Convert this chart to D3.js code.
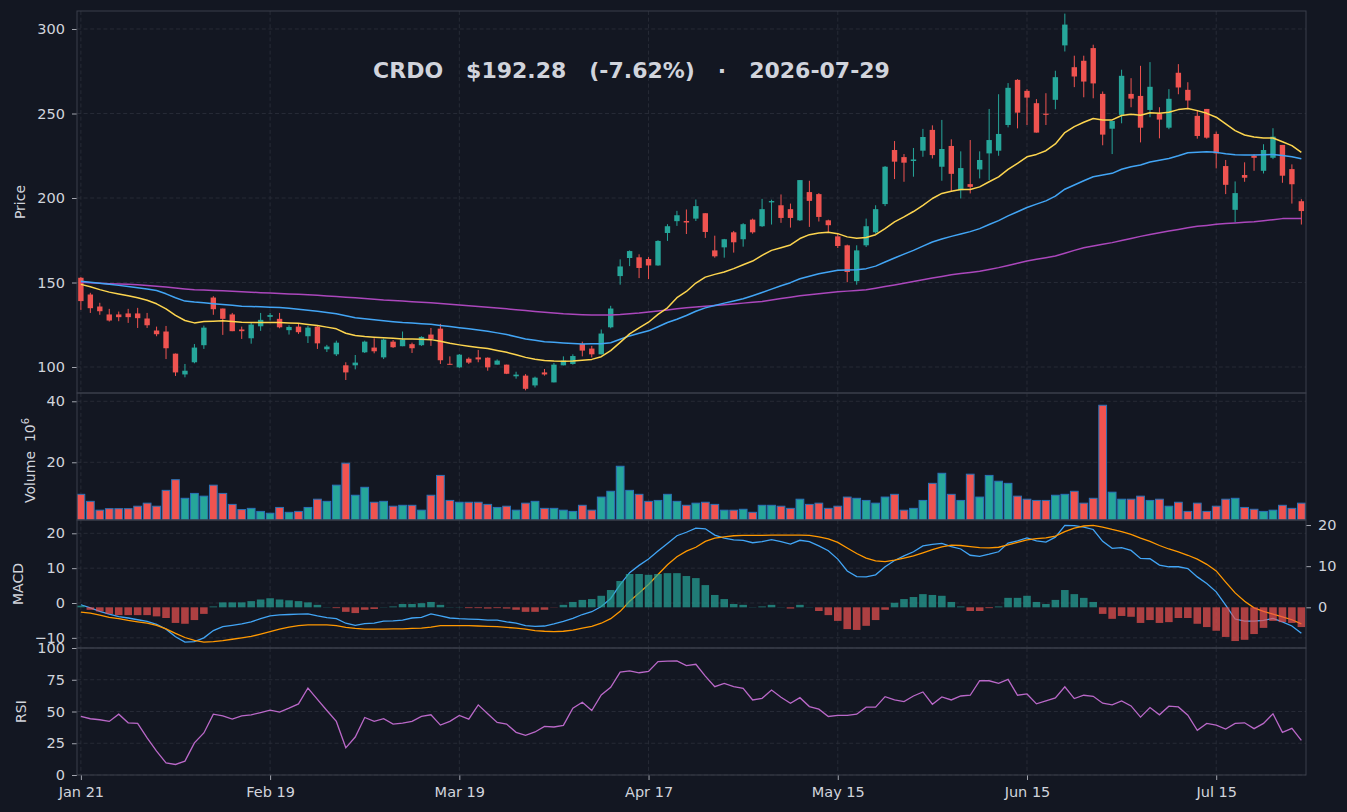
<!DOCTYPE html>
<html><head><meta charset="utf-8">
<script src="https://cdn.jsdelivr.net/npm/d3@7"></script>
<style>html,body{margin:0;padding:0;background:#131722;}svg{display:block;}</style>
</head><body><svg id="c" width="1347" height="812"></svg>
<script>
const xTickIndex=[0,20,40,60,80,100,120];
const xTickLabels=["Jan 21","Feb 19","Mar 19","Apr 17","May 15","Jun 15","Jul 15"];
const openP=[152.8,142.9,135.8,131.1,131.1,131.7,131.7,128.7,121.6,121.0,
107.9,95.6,102.8,112.9,141.1,134.6,131.1,122.2,117.0,124.1,
129.7,128.5,121.8,123.9,118.2,123.9,110.5,107.5,101.0,101.0,
108.7,111.5,105.7,115.0,112.3,113.5,112.9,119.2,122.7,101.9,
99.8,104.9,105.7,105.5,101.4,101.4,94.5,94.9,89.1,96.8,
90.9,101.0,101.8,113.6,110.9,107.5,123.5,153.8,164.5,164.9,
163.9,160.1,179.3,186.3,186.4,187.8,191.0,169.0,170.8,179.7,
175.6,187.2,183.3,197.4,195.7,193.4,186.8,203.5,202.3,186.8,
177.3,172.0,150.8,172.0,179.7,196.4,228.4,224.2,221.9,228.0,
240.3,218.5,230.8,204.6,208.2,216.9,226.4,228.0,243.2,269.9,
263.4,256.1,249.9,258.1,290.3,277.4,281.2,288.7,261.6,241.0,
249.2,261.6,260.4,252.1,249.8,241.6,274.1,264.0,248.6,252.7,
237.9,218.9,193.0,213.6,225.0,216.1,223.8,231.4,217.1,198.1];
const highP=[153.2,143.9,138.0,134.4,132.8,134.4,135.0,132.0,123.9,124.3,
108.0,101.8,113.6,124.5,141.9,134.6,132.0,123.9,126.1,132.0,
132.0,132.0,124.7,125.5,124.3,124.7,113.1,115.6,102.8,107.1,
115.6,117.0,116.8,116.0,121.0,114.4,118.2,123.1,125.5,106.3,
107.7,105.7,110.1,105.7,104.5,101.4,97.2,95.8,94.3,98.8,
102.4,106.3,107.5,115.0,112.5,122.2,136.2,163.7,169.0,166.7,
165.1,175.0,184.5,192.4,193.2,199.1,191.0,177.7,175.8,180.5,
185.1,187.8,199.5,199.0,202.1,196.7,210.6,210.2,202.9,187.2,
179.3,172.4,172.0,187.8,195.7,218.9,233.7,226.0,229.6,240.9,
243.0,246.2,234.7,227.6,234.3,227.6,252.7,261.4,268.0,270.3,
264.4,258.5,262.0,275.3,309.1,284.2,284.2,290.7,263.0,245.6,
275.9,270.9,278.2,280.4,253.7,264.4,279.2,268.5,252.1,252.7,
239.3,222.5,209.8,221.1,226.0,231.8,241.3,231.4,219.9,199.3];
const lowP=[133.8,132.0,130.9,126.9,127.1,126.1,123.1,123.1,118.2,104.7,
94.7,93.9,102.2,110.7,130.9,119.0,121.2,116.6,113.8,121.4,
127.5,122.9,119.2,119.6,114.2,110.7,108.9,106.5,92.3,98.6,
108.3,108.1,104.7,111.3,112.3,108.3,112.5,112.5,101.8,101.4,
99.4,101.8,102.8,97.8,101.4,95.8,93.1,86.2,87.9,94.9,
90.9,101.0,101.4,106.3,105.7,107.5,122.9,148.7,159.7,152.6,
152.0,159.9,174.6,183.5,178.7,186.4,176.4,164.7,164.7,167.7,
171.2,178.9,182.9,184.3,185.3,182.5,186.4,182.9,186.1,179.5,
170.4,150.2,148.7,171.0,178.9,195.2,211.2,209.6,212.6,224.4,
223.4,210.2,203.7,199.7,202.7,211.6,210.6,225.0,241.8,241.2,
243.2,238.7,243.2,252.5,286.7,265.6,259.6,259.0,231.2,226.0,
244.2,253.7,232.9,247.8,235.3,240.7,261.4,252.5,235.1,235.1,
217.5,202.3,185.7,209.6,216.1,214.5,223.0,209.0,196.7,184.3];
const closeP=[139.0,134.8,133.0,127.5,129.5,129.5,128.9,124.7,119.4,111.1,
96.8,97.8,111.5,123.3,134.2,128.5,121.2,121.2,125.1,127.9,
130.7,123.5,123.7,120.6,123.3,114.0,112.1,114.4,96.8,102.6,
115.0,109.3,116.2,111.7,116.2,111.1,117.8,116.6,104.0,101.8,
107.3,102.6,104.5,99.8,103.8,96.0,95.5,87.1,93.7,95.6,
101.4,103.8,106.5,109.7,107.5,119.8,134.6,159.5,168.6,158.6,
160.1,174.6,183.3,189.8,185.5,195.2,179.9,165.5,175.6,173.8,
184.5,179.7,193.4,198.2,188.2,188.2,210.6,198.3,188.8,183.9,
171.6,156.2,169.0,183.3,193.4,218.5,221.5,220.9,222.8,236.1,
225.4,229.0,214.3,217.7,206.6,222.5,234.3,237.9,265.2,250.5,
259.4,238.7,249.2,271.5,302.6,271.9,268.9,267.8,237.5,245.6,
272.3,258.8,241.6,265.8,246.4,258.7,265.4,257.7,236.7,235.7,
226.4,207.8,202.9,212.0,223.8,228.4,236.3,213.2,208.14,192.28];
const volume=[9.5,7.2,4.3,4.8,4.8,4.8,5.6,6.6,5.6,10.8,
14.3,8.2,9.8,8.9,12.5,9.8,6.2,4.5,4.9,3.9,
3.3,5.2,3.6,3.9,5.2,7.9,7.2,12.5,19.7,9.2,
11.8,6.9,7.2,5.6,5.9,5.9,4.3,9.2,15.7,7.5,
6.9,6.9,6.9,6.2,5.2,5.6,4.3,6.6,7.2,4.9,
4.9,4.3,3.9,5.9,4.3,8.6,10.5,18.7,10.8,9.5,
7.2,7.5,9.5,7.2,5.9,6.6,6.9,6.2,4.3,4.3,
4.6,3.6,5.9,5.9,5.6,4.9,7.9,6.2,6.6,4.9,
5.6,8.6,8.2,7.5,6.6,8.6,9.5,4.3,4.9,7.5,
13.1,16.4,9.5,7.5,16.1,8.6,15.7,13.8,13.1,8.9,
7.9,7.5,7.5,9.2,9.5,10.5,6.6,8.2,38.7,10.2,
7.9,7.9,8.9,7.5,7.9,5.6,6.9,3.9,6.6,3.9,
5.6,7.9,8.2,5.2,4.6,3.9,4.3,5.9,4.9,6.6];
const maFast=[148.9,147.5,145.8,144.3,143.2,142.2,141.0,139.5,137.4,134.4,
130.5,127.5,126.1,126.9,127.1,127.3,126.9,126.5,126.4,126.3,
126.3,126.3,126.1,125.9,125.2,124.5,123.6,122.6,120.0,118.6,
118.0,117.6,117.3,117.0,116.6,116.5,116.4,116.2,115.3,114.0,
113.1,112.3,111.6,110.9,109.8,108.7,107.2,105.7,104.6,103.8,
103.5,103.4,103.6,104.0,104.5,106.1,109.7,114.6,119.6,123.1,
126.5,131.1,135.0,141.0,144.7,149.7,153.2,154.8,156.2,158.2,
160.5,162.7,166.1,169.0,170.6,172.2,176.0,178.3,179.3,179.7,
178.9,177.0,176.2,176.6,178.3,181.9,185.9,188.8,192.0,195.7,
199.7,202.7,204.0,205.0,205.0,206.6,209.6,212.5,216.9,220.5,
224.4,225.8,228.0,232.0,238.7,242.2,244.8,247.0,246.2,246.2,
248.8,249.6,249.0,250.5,250.1,250.7,252.3,252.9,251.7,250.1,
247.8,243.8,239.9,237.3,236.1,235.5,235.5,233.3,231.0,227.0];
const maMid=[150.8,150.2,149.6,148.9,148.3,147.6,146.9,146.2,145.3,143.3,
141.0,139.0,138.4,138.0,137.5,137.0,136.5,136.0,135.8,135.6,
135.4,135.2,134.7,134.2,133.6,133.0,132.3,131.5,130.3,129.1,
128.5,127.9,127.4,126.8,126.3,126.0,125.6,125.3,124.6,123.9,
123.2,122.6,121.9,121.2,120.2,119.2,117.9,116.6,115.8,115.0,
114.6,114.2,113.9,113.6,113.7,113.8,114.4,116.4,118.4,120.0,
121.4,123.8,126.3,128.3,130.5,133.0,135.0,136.4,137.8,139.1,
140.4,142.2,144.1,146.1,148.1,149.9,152.2,153.7,155.2,156.2,
157.2,157.4,157.6,158.2,159.7,162.1,164.5,166.8,169.0,171.5,
174.0,175.7,177.3,178.7,180.1,181.9,184.3,186.6,189.4,191.9,
194.4,196.4,198.3,201.1,205.2,207.7,210.2,212.6,213.6,214.6,
217.0,218.5,219.5,221.3,222.4,223.4,225.0,226.8,227.1,227.4,
227.0,226.2,225.6,225.5,225.4,225.6,225.8,225.2,224.4,223.2];
const maSlow=[150.2,149.9,149.6,149.3,149.1,148.9,148.7,148.2,147.8,147.3,
146.8,146.2,145.7,145.5,145.3,145.1,144.8,144.6,144.3,144.0,
143.8,143.5,143.2,143.0,142.7,142.4,142.0,141.7,141.3,141.0,
140.6,140.1,139.6,139.3,139.0,138.6,138.3,138.0,137.6,137.1,
136.7,136.2,135.8,135.3,134.9,134.4,133.9,133.4,132.9,132.4,
132.0,131.5,131.2,130.9,130.7,130.7,130.7,131.0,131.5,131.9,
132.5,133.1,133.8,134.5,135.0,135.5,136.0,136.4,136.8,137.3,
137.8,138.3,138.8,139.6,140.5,141.3,142.1,142.7,143.3,143.9,
144.5,144.9,145.3,145.7,146.6,147.6,148.5,149.5,150.6,151.6,
152.6,153.6,154.6,155.3,155.9,156.6,157.7,158.8,160.1,161.4,
162.7,163.7,164.7,165.7,167.3,169.0,170.6,171.6,172.6,173.6,
174.8,176.1,177.3,178.4,179.4,180.5,181.4,182.4,183.3,183.8,
184.4,184.9,185.2,185.6,185.9,186.5,187.2,187.8,187.8,187.8];
const macdLine=[-0.5,-1.4,-2.4,-3.2,-3.9,-4.3,-4.8,-5.3,-6.1,-7.5,
-9.7,-11.2,-11.1,-10.0,-7.9,-6.8,-6.4,-6.0,-5.4,-4.5,
-3.7,-3.4,-3.3,-3.2,-3.1,-3.7,-4.2,-4.5,-5.8,-6.4,
-5.9,-5.8,-5.2,-5.1,-4.9,-4.3,-4.1,-3.1,-3.7,-4.3,
-4.5,-4.6,-4.7,-4.9,-4.9,-5.4,-5.8,-6.5,-6.7,-6.6,
-6.0,-5.3,-4.4,-3.3,-2.5,-1.0,1.3,5.3,8.7,10.8,
12.6,14.9,17.1,19.3,20.3,21.5,21.3,19.5,18.6,18.1,
18.0,17.3,17.6,18.2,17.6,16.9,18.0,17.6,16.4,15.0,
12.6,9.2,7.6,7.5,8.1,10.4,12.2,13.5,14.7,16.4,
16.8,17.1,16.2,15.5,13.7,13.4,14.0,14.7,17.2,17.8,
18.7,17.8,17.5,18.9,22.3,22.2,21.8,21.1,17.7,15.7,
15.9,15.1,12.8,12.7,10.9,10.4,10.4,9.9,7.5,5.6,
3.2,-0.6,-4.6,-5.2,-5.2,-5.0,-4.4,-5.4,-6.6,-8.7];
const signalLine=[-2.6,-2.9,-3.5,-4.1,-4.5,-5.0,-5.4,-5.8,-6.4,-7.4,
-8.7,-9.9,-10.7,-11.2,-11.1,-10.8,-10.4,-10.0,-9.6,-8.9,
-8.2,-7.5,-6.9,-6.5,-6.3,-6.3,-6.3,-6.5,-7.0,-7.3,
-7.5,-7.5,-7.5,-7.4,-7.4,-7.3,-7.2,-6.9,-6.5,-6.5,
-6.5,-6.5,-6.6,-6.7,-6.8,-7.0,-7.2,-7.5,-7.9,-8.1,
-8.2,-8.1,-7.8,-7.2,-6.7,-5.8,-4.5,-2.4,0.5,2.9,
5.3,8.2,11.0,13.3,14.9,16.0,17.7,18.6,19.0,19.3,
19.4,19.4,19.4,19.5,19.5,19.5,19.5,19.4,19.0,18.4,
17.4,15.8,14.2,12.9,12.1,11.9,12.3,12.9,13.5,14.4,
15.3,16.1,16.6,16.5,16.2,15.9,15.8,16.0,16.7,17.4,
18.1,18.5,18.7,19.2,20.5,21.5,22.1,22.3,21.8,21.1,
20.5,19.7,18.6,17.7,16.5,15.5,14.7,13.7,12.6,11.1,
9.2,6.0,2.9,0.5,-1.4,-2.4,-3.2,-4.0,-4.8,-6.0];
const macdHist=[0.4,-0.6,-1.0,-1.6,-1.9,-1.9,-1.9,-1.9,-2.2,-2.6,
-3.8,-4.0,-3.1,-1.6,0.2,1.2,1.2,1.2,1.5,1.9,
2.2,1.9,1.7,1.5,1.2,0.6,0.05,-0.2,-1.1,-1.4,
-0.6,-0.4,0.05,0.2,0.8,0.8,1.0,1.3,0.6,0.05,
0.05,-0.2,-0.2,-0.3,-0.2,-0.3,-0.6,-1.1,-1.1,-0.6,
-0.05,0.6,1.3,1.8,2.0,2.8,4.2,6.4,8.1,8.1,
7.9,8.1,8.3,8.3,7.6,7.1,5.4,3.0,2.0,0.8,
0.6,0.05,0.2,0.6,0.05,-0.3,0.6,0.05,-0.9,-1.9,
-3.3,-5.3,-5.5,-4.5,-3.1,-0.6,1.1,2.0,2.5,3.2,
3.0,2.8,1.3,0.2,-0.9,-0.9,-0.2,0.2,2.3,2.3,
2.8,1.3,0.8,1.8,4.2,3.2,2.3,1.3,-1.6,-2.8,
-2.1,-2.3,-3.8,-3.1,-3.8,-3.6,-2.6,-2.6,-4.0,-4.8,
-5.7,-7.2,-8.2,-7.9,-6.5,-5.0,-3.3,-3.6,-3.8,-4.8];
const rsi=[46.1,44.3,43.5,42.2,47.9,41.1,40.6,29.2,18.8,9.6,
8.3,10.9,25.3,33.1,47.9,46.6,44.0,46.6,47.4,49.2,
51.0,49.5,52.6,56.0,68.5,59.6,50.8,42.2,21.4,29.9,
45.3,42.2,44.3,40.1,40.9,42.2,46.1,47.4,39.3,42.2,
46.9,44.0,55.2,48.2,41.4,40.1,33.6,31.3,33.9,38.3,
37.8,39.1,52.6,57.3,50.8,63.0,69.0,81.0,82.0,80.5,
81.5,89.3,89.6,89.8,86.2,87.2,77.9,69.5,72.1,69.5,
68.2,59.1,60.4,66.9,61.2,56.5,60.9,53.9,51.8,46.1,
46.9,46.9,47.9,53.4,53.4,61.7,59.1,57.8,62.2,65.4,
55.7,61.5,59.1,62.2,62.8,74.2,74.2,72.1,75.3,62.8,
63.8,56.0,58.3,60.7,69.5,60.2,62.8,62.0,56.5,55.2,
58.3,54.4,45.6,53.1,47.4,54.2,53.6,47.1,35.2,40.6,
39.3,36.2,40.6,41.1,36.5,40.6,48.2,33.6,36.7,27.3];
const priceTicks=[100,150,200,250,300];
const volumeTicks=[20,40];
const macdTicks=[-10,0,10,20];
const histTicks=[0,10,20];
const rsiTicks=[0,25,50,75,100];
const titleText="CRDO   $192.28   (-7.62%)   \u00b7   2026-07-29";

// ---------- layout / style ----------
const BG="#131722", GRID="#2c303b", SPINE="#3b3f4b", TXT="#d1d4dc", TICK="#b2b5be";
const UP="#26a69a", DN="#ef5350";
const FONT="DejaVu Sans";
const TICKFS=14.5, TS=5, TP=7;
const L=77, R=1306;
const P={price:[11,393], vol:[393,520], macd:[520,648], rsi:[648,775]};
const n=closeP.length;
const svg=d3.select("#c");
svg.append("rect").attr("width",1347).attr("height",812).attr("fill",BG);

const x=d3.scaleLinear().domain([-0.41,129.49]).range([L,R]);
const step=x(1)-x(0);
const yP=d3.scaleLinear().domain([84.62,310.65]).range([P.price[1],P.price[0]]);
const yV=d3.scaleLinear().domain([1.08,42.72]).range([P.vol[1],P.vol[0]]);
const yM=d3.scaleLinear().domain([-12.91,23.82]).range([P.macd[1],P.macd[0]]);
const yH=d3.scaleLinear().domain([-9.89,21.22]).range([P.macd[1],P.macd[0]]);
const yR=d3.scaleLinear().domain([0,100]).range([P.rsi[1],P.rsi[0]]);

const defs=svg.append("defs");
Object.entries(P).forEach(([k,[t,b]])=>{
  defs.append("clipPath").attr("id","clip-"+k).append("rect").attr("x",L).attr("y",t).attr("width",R-L).attr("height",b-t);
});

// grids
function grid(key,scale,ticks){
  const [t,b]=P[key];
  const g=svg.append("g").attr("stroke",GRID).attr("stroke-width",0.8).attr("stroke-dasharray","4,2.6");
  ticks.forEach(v=>g.append("line").attr("x1",L).attr("x2",R).attr("y1",scale(v)).attr("y2",scale(v)));
  xTickIndex.forEach(i=>g.append("line").attr("x1",x(i)).attr("x2",x(i)).attr("y1",t).attr("y2",b));
}
grid("price",yP,priceTicks);
grid("vol",yV,volumeTicks);
grid("macd",yM,macdTicks);
grid("rsi",yR,rsiTicks);

// candles
const gc=svg.append("g").attr("clip-path","url(#clip-price)");
const bw=step*0.57;
d3.range(n).forEach(i=>{
  const up=closeP[i]>=openP[i];
  const col=up?UP:DN;
  gc.append("line").attr("x1",x(i)).attr("x2",x(i)).attr("y1",yP(highP[i])).attr("y2",yP(lowP[i]))
    .attr("stroke",col).attr("stroke-width",1);
  const top=yP(Math.max(openP[i],closeP[i])), bot=yP(Math.min(openP[i],closeP[i]));
  gc.append("rect").attr("x",x(i)-bw/2).attr("y",top).attr("width",bw).attr("height",Math.max(bot-top,1))
    .attr("fill",col);
});
// moving averages
const lineP=d3.line().x((d,i)=>x(i)).y(d=>yP(d)).curve(d3.curveLinear);
[[maSlow,"#ab47bc"],[maMid,"#42a5f5"],[maFast,"#fdd54f"]].forEach(([arr,c])=>{
  gc.append("path").datum(arr).attr("d",lineP).attr("fill","none").attr("stroke",c).attr("stroke-width",1.5).attr("stroke-linejoin","round");
});

// volume
const gv=svg.append("g").attr("clip-path","url(#clip-vol)");
const vw=step*0.82;
d3.range(n).forEach(i=>{
  const up=closeP[i]>=openP[i];
  gv.append("rect").attr("x",x(i)-vw/2).attr("y",yV(volume[i])).attr("width",vw)
    .attr("height",P.vol[1]-yV(volume[i])).attr("fill",up?UP:DN)
    .attr("stroke","#2a73b8").attr("stroke-width",1);
});

// macd
const gm=svg.append("g").attr("clip-path","url(#clip-macd)");
const lineM=d3.line().x((d,i)=>x(i)).y(d=>yM(d));
gm.append("path").datum(macdLine).attr("d",lineM).attr("fill","none").attr("stroke","#42a5f5").attr("stroke-width",1.3);
gm.append("path").datum(signalLine).attr("d",lineM).attr("fill","none").attr("stroke","#ff9800").attr("stroke-width",1.3);
const hw=step*0.8;
d3.range(n).forEach(i=>{
  const v=macdHist[i];
  const y0=yH(0), y1=yH(v);
  gm.append("rect").attr("x",x(i)-hw/2).attr("y",Math.min(y0,y1)).attr("width",hw)
    .attr("height",Math.abs(y1-y0)).attr("fill",v>=0?UP:DN).attr("fill-opacity",0.7);
});

// rsi
const gr=svg.append("g").attr("clip-path","url(#clip-rsi)");
gr.append("path").datum(rsi).attr("d",d3.line().x((d,i)=>x(i)).y(d=>yR(d)))
  .attr("fill","none").attr("stroke","#ba68c8").attr("stroke-width",1.3);

// axes
function styleAxis(g){
  g.attr("font-family",FONT).attr("font-size",TICKFS);
  g.select(".domain").remove();
  g.selectAll(".tick line").attr("stroke",TICK).attr("stroke-width",0.9);
  g.selectAll(".tick text").attr("fill",TXT);
}
const fmt=d3.format("d");
svg.append("g").attr("transform",`translate(${L},0)`).call(d3.axisLeft(yP).tickValues(priceTicks).tickFormat(fmt).tickSize(TS).tickPadding(TP)).call(styleAxis);
svg.append("g").attr("transform",`translate(${L},0)`).call(d3.axisLeft(yV).tickValues(volumeTicks).tickFormat(fmt).tickSize(TS).tickPadding(TP)).call(styleAxis);
svg.append("g").attr("transform",`translate(${L},0)`).call(d3.axisLeft(yM).tickValues(macdTicks).tickFormat(fmt).tickSize(TS).tickPadding(TP)).call(styleAxis);
svg.append("g").attr("transform",`translate(${R},0)`).call(d3.axisRight(yH).tickValues(histTicks).tickFormat(fmt).tickSize(TS).tickPadding(TP)).call(styleAxis);
svg.append("g").attr("transform",`translate(${L},0)`).call(d3.axisLeft(yR).tickValues(rsiTicks).tickFormat(fmt).tickSize(TS).tickPadding(TP)).call(styleAxis);
svg.append("g").attr("transform",`translate(0,${P.rsi[1]})`).call(d3.axisBottom(x).tickValues(xTickIndex).tickFormat((d,i)=>xTickLabels[i]).tickSize(TS).tickPadding(6.5)).call(styleAxis);

// panel borders
Object.values(P).forEach(([t,b])=>{
  svg.append("rect").attr("x",L).attr("y",t).attr("width",R-L).attr("height",b-t)
    .attr("fill","none").attr("stroke",SPINE).attr("stroke-width",1);
});

// y labels
function ylab(txt,cx,cy,sup){
  const t=svg.append("text").attr("transform",`translate(${cx},${cy}) rotate(-90)`)
    .attr("text-anchor","middle").attr("dominant-baseline","central")
    .attr("font-family",FONT).attr("font-size",14).attr("fill",TXT).style("white-space","pre");
  t.append("tspan").text(txt);
  if(sup){ t.append("tspan").attr("dy",-5).attr("font-size",10).text(sup); }
}
ylab("Price",20,(P.price[0]+P.price[1])/2);
ylab("Volume  10",30,(P.vol[0]+P.vol[1])/2+4,"6");
ylab("MACD",18,(P.macd[0]+P.macd[1])/2);
ylab("RSI",20.5,(P.rsi[0]+P.rsi[1])/2);

// title
svg.append("text").attr("x",631.5).attr("y",78).attr("text-anchor","middle")
  .attr("font-family",FONT).attr("font-weight","bold").attr("font-size",22).attr("fill",TXT)
  .style("white-space","pre").text(titleText);
</script></body></html>
